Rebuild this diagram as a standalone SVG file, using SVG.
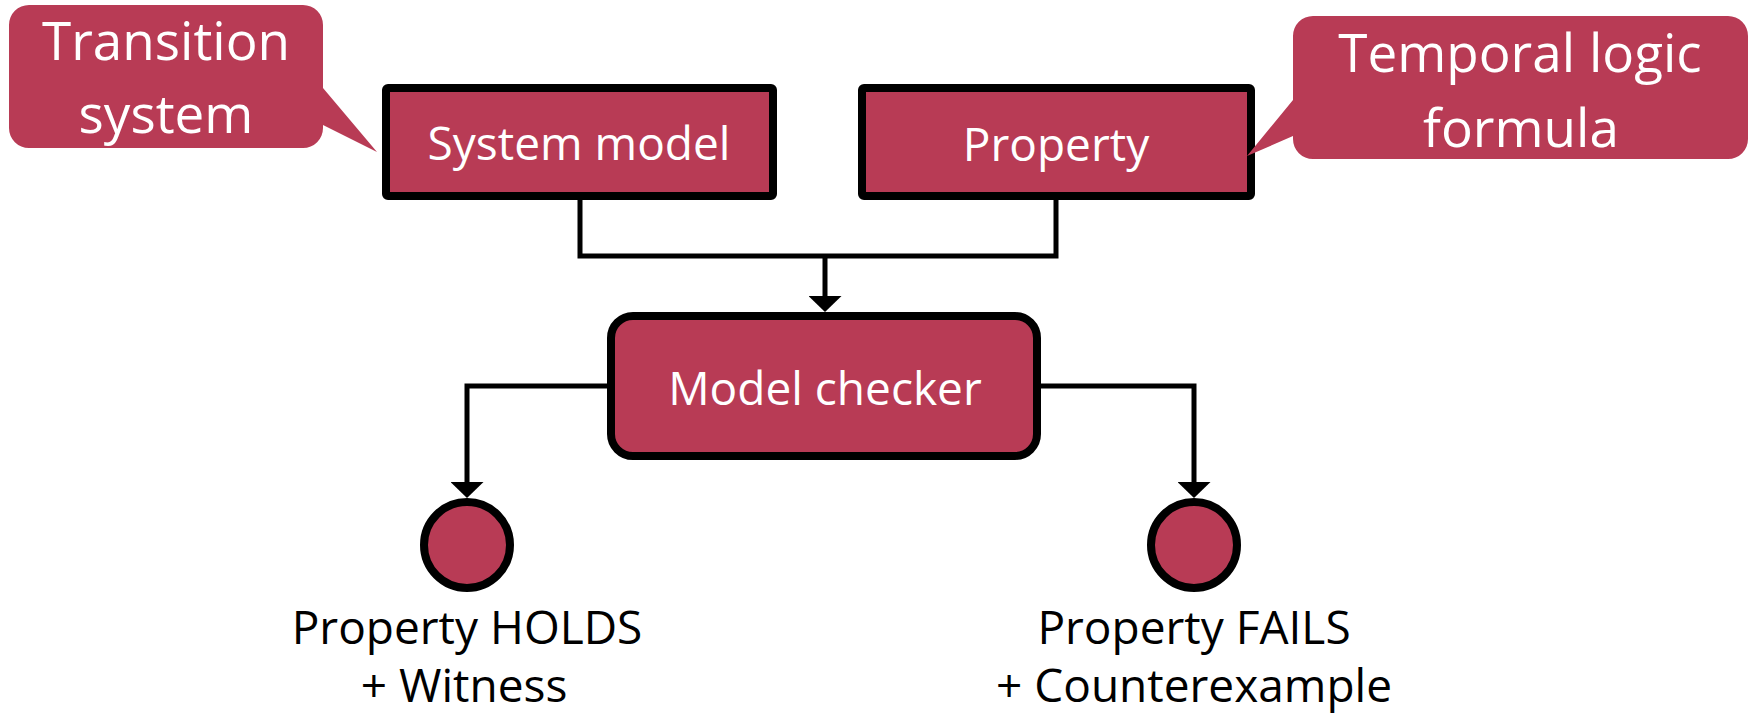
<svg xmlns="http://www.w3.org/2000/svg" width="1752" height="717" viewBox="0 0 1752 717">
  <defs>
    <marker id="arrow" viewBox="0 0 16 33" refX="0" refY="16.5" markerWidth="16" markerHeight="33" markerUnits="userSpaceOnUse" orient="auto">
      <path d="M0,0 L16,16.5 L0,33 Z" fill="#000"/>
    </marker>
    <style>
      .box { fill: #B83B55; stroke: #000; stroke-width: 8; }
      .callout { fill: #B83B55; stroke: none; }
      .wire { fill: none; stroke: #000; stroke-width: 5; stroke-linejoin: miter; }
      .lbl { font-family: "Open Sans", "Noto Sans", "Liberation Sans", sans-serif; font-size: 46px; text-anchor: middle; }
      .white { fill: #fff; }
      .dark { fill: #000; }
      .big { font-size: 53px; }
    </style>
  </defs>
  <rect width="1752" height="717" fill="#fff"/>

  <!-- connectors -->
  <g id="connectors">
    <path class="wire" d="M580,200 V256 H1056 V200"/>
    <path class="wire" d="M825,256 V296" marker-end="url(#arrow)"/>
    <path class="wire" d="M607,386 H467 V482" marker-end="url(#arrow)"/>
    <path class="wire" d="M1041,386 H1194 V482" marker-end="url(#arrow)"/>
  </g>

  <g id="system-model">
    <rect class="box" x="386" y="88" width="387" height="108" rx="2"/>
    <text class="lbl white" x="579" y="160">System model</text>
  </g>

  <g id="property">
    <rect class="box" x="862" y="88" width="389" height="108" rx="2"/>
    <text class="lbl white" x="1056" y="161">Property</text>
  </g>

  <g id="model-checker">
    <rect class="box" x="611" y="316" width="426" height="140" rx="22"/>
    <text class="lbl white" x="825" y="405">Model checker</text>
  </g>

  <g id="holds">
    <circle class="box" cx="467" cy="545" r="43"/>
    <text class="lbl dark" x="467" y="644">Property HOLDS</text>
    <text class="lbl dark" x="464" y="702">+ Witness</text>
  </g>

  <g id="fails">
    <circle class="box" cx="1194" cy="545" r="43"/>
    <text class="lbl dark" x="1194" y="644">Property FAILS</text>
    <text class="lbl dark" x="1194" y="702">+ Counterexample</text>
  </g>

  <g id="callout-transition">
    <path class="callout" d="M29,5 H303 A20,20 0 0 1 323,25 V88 L377,152 L323,125 V128 A20,20 0 0 1 303,148 H29 A20,20 0 0 1 9,128 V25 A20,20 0 0 1 29,5 Z"/>
    <text class="lbl white big" x="166" y="60">Transition</text>
    <text class="lbl white big" x="166" y="133">system</text>
  </g>

  <g id="callout-temporal">
    <path class="callout" d="M1313,16 H1728 A20,20 0 0 1 1748,36 V139 A20,20 0 0 1 1728,159 H1313 A20,20 0 0 1 1293,139 V136 L1247,156 L1293,100 V36 A20,20 0 0 1 1313,16 Z"/>
    <text class="lbl white big" x="1520" y="72">Temporal logic</text>
    <text class="lbl white big" x="1521" y="147">formula</text>
  </g>
</svg>
